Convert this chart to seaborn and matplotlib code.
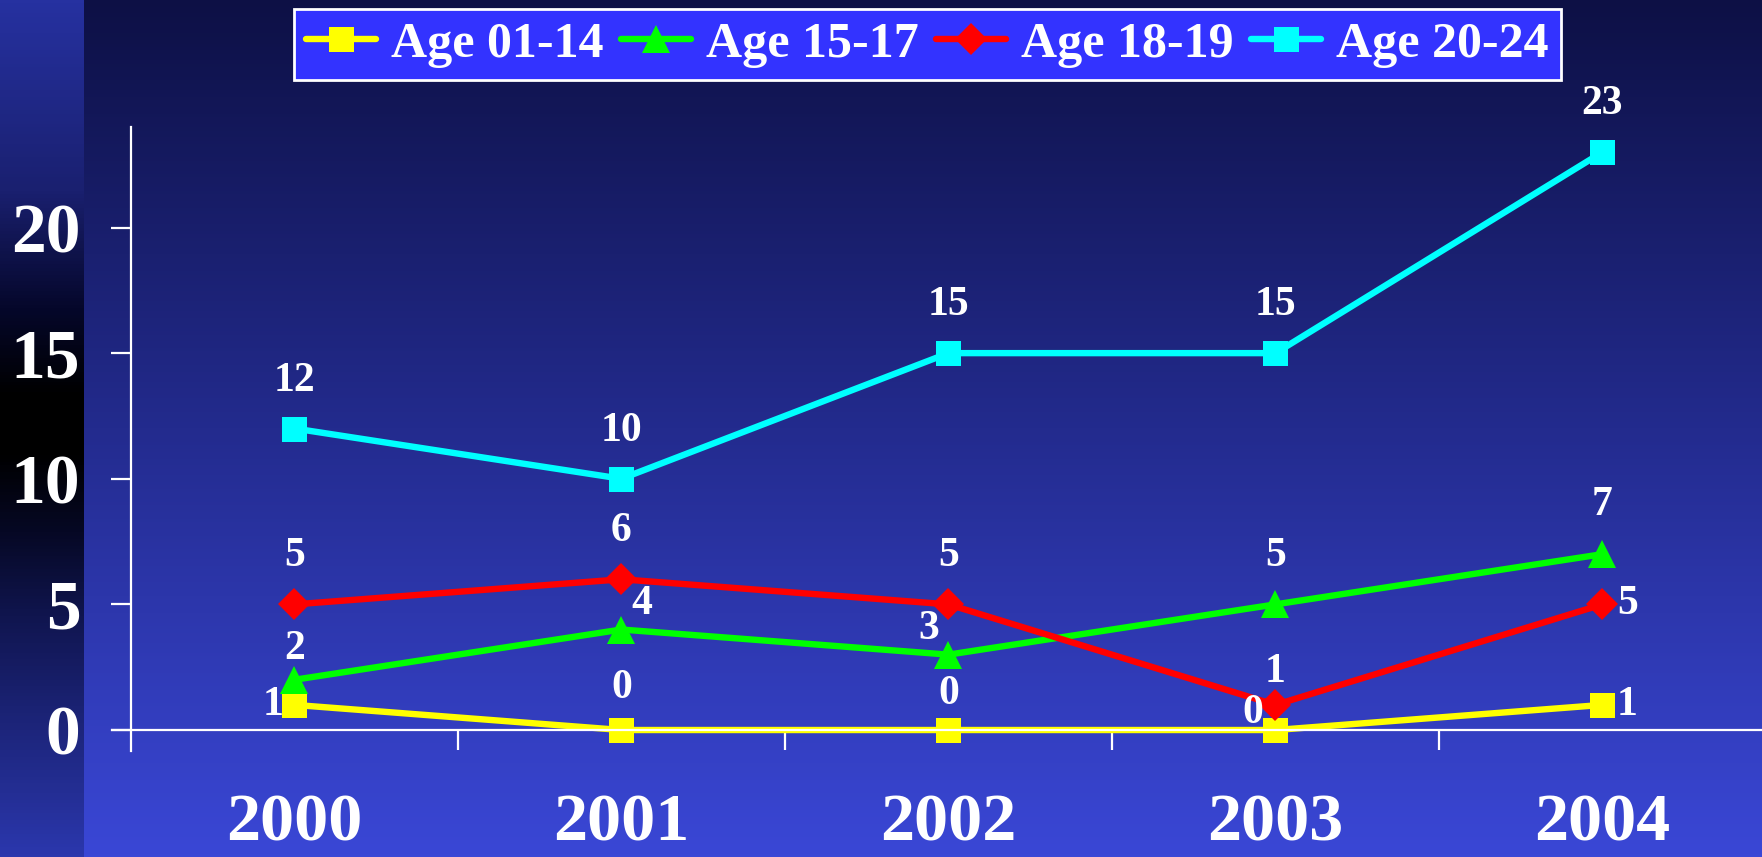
import numpy as np
import pandas as pd
import matplotlib
matplotlib.use("Agg")
import matplotlib.pyplot as plt
import seaborn as sns
from matplotlib.colors import LinearSegmentedColormap

# ---------------- data ----------------
years = ["2000", "2001", "2002", "2003", "2004"]
series_names = ["Age 01-14", "Age 15-17", "Age 18-19", "Age 20-24"]
age_01_14 = [1, 0, 0, 0, 1]
age_15_17 = [2, 4, 3, 5, 7]
age_18_19 = [5, 6, 5, 1, 5]
age_20_24 = [12, 10, 15, 15, 23]
y_ticks = [0, 5, 10, 15, 20]

# ---------------- style ----------------
colors = ["#ffff00", "#00ff00", "#ff0000", "#00ffff"]
markers = ["s", "^", "D", "s"]
marker_sizes = [18, 20, 16, 18]
# label offsets in pixels (dx, dy) per series per point
label_offsets = [
    [(-21, 0), (0, 42), (0, 36), (-23, 17), (25, 0)],
    [(0, 31), (20, 26), (-20, 26), (0, 48), (0, 49)],
    [(0, 48), (0, 48), (0, 48), (0, 33), (25, 0)],
    [(0, 48), (0, 48), (0, 48), (0, 48), (0, 48)],
]

sns.set_theme(style="white")
plt.rcParams['font.family'] = ['Liberation Serif', 'DejaVu Serif']
plt.rcParams['font.weight'] = 'bold'

W, H = 1762, 857
fig = plt.figure(figsize=(W / 100, H / 100), dpi=100)

# ---------------- background ----------------
bg = fig.add_axes([0, 0, 1, 1], zorder=-10)
bg.set_xlim(0, W)
bg.set_ylim(H, 0)
bg.axis("off")
main_cmap = LinearSegmentedColormap.from_list(
    "main", [(0.0, "#0d1045"), (0.5, "#232b8e"), (1.0, "#3a47d6")])
grad = np.linspace(0, 1, 256).reshape(-1, 1)
bg.imshow(grad, cmap=main_cmap, aspect="auto", extent=[0, W, H, 0])
strip_cmap = LinearSegmentedColormap.from_list(
    "strip", [(0.0, "#2631a0"), (0.22, "#1a2070"), (0.36, "#05072a"),
              (0.46, "#000000"), (0.53, "#000000"), (0.62, "#060824"),
              (0.72, "#10154f"), (1.0, "#2b37ad")])
bg.imshow(grad, cmap=strip_cmap, aspect="auto", extent=[0, 84, H, 0])

# ---------------- main axes ----------------
ax = fig.add_axes([112 / W, 1 - 751 / H, (W - 112) / W, (751 - 127) / H])
ax.set_facecolor("none")
ax.patch.set_alpha(0)

xs = np.arange(len(years))
all_series = [age_01_14, age_15_17, age_18_19, age_20_24]
for vals, name, c, m, ms, offs in zip(all_series, series_names, colors,
                                      markers, marker_sizes, label_offsets):
    sns.lineplot(x=xs, y=vals, ax=ax, color=c, marker=m, markersize=ms,
                 markeredgewidth=0, linewidth=4.6, label=name, legend=False)
    for xi, v, (dx, dy) in zip(xs, vals, offs):
        ax.annotate(str(v), (xi, v), xytext=(dx, dy),
                    textcoords="offset pixels", ha="center", va="center",
                    color="white", fontsize=30, fontweight="bold")

ax.set_xlim(-0.558, 4.488)
ax.set_ylim(-0.835, 24.0)

for s in ["top", "right"]:
    ax.spines[s].set_visible(False)
ax.spines["left"].set_position(("data", -0.5))
ax.spines["bottom"].set_position(("data", 0))
for s in ["left", "bottom"]:
    ax.spines[s].set_color("white")
    ax.spines[s].set_linewidth(1.6)

ax.set_yticks(y_ticks)
ax.set_yticklabels([str(t) for t in y_ticks])
ax.tick_params(axis="y", direction="out", length=14.5, width=1.6,
               colors="white", labelsize=50, pad=22, left=True)
ax.set_xticks(xs)
ax.set_xticklabels(years)
ax.set_xticks(xs[:-1] + 0.5, minor=True)
ax.tick_params(axis="x", which="major", length=0, colors="white",
               labelsize=49, pad=46)
ax.tick_params(axis="x", which="minor", direction="out", length=14.5,
               width=1.6, color="white", bottom=True)
for lab in ax.get_xticklabels() + ax.get_yticklabels():
    lab.set_fontweight("bold")
    lab.set_color("white")
ax.set_xlabel("")
ax.set_ylabel("")
ax.grid(False)

handles, labels = ax.get_legend_handles_labels()
leg = fig.legend(handles, labels, loc="upper center",
                 bbox_to_anchor=(927.5 / W, 1 - 9 / H), ncol=4,
                 frameon=True, fancybox=False, facecolor="#3333ff",
                 edgecolor="white", framealpha=1, fontsize=36,
                 handlelength=1.4, handletextpad=0.3, columnspacing=0.35,
                 borderpad=0.25, borderaxespad=0)
leg.get_frame().set_linewidth(2)
for t in leg.get_texts():
    t.set_color("white")
    t.set_fontweight("bold")

fig.savefig("out.png", dpi=100)
